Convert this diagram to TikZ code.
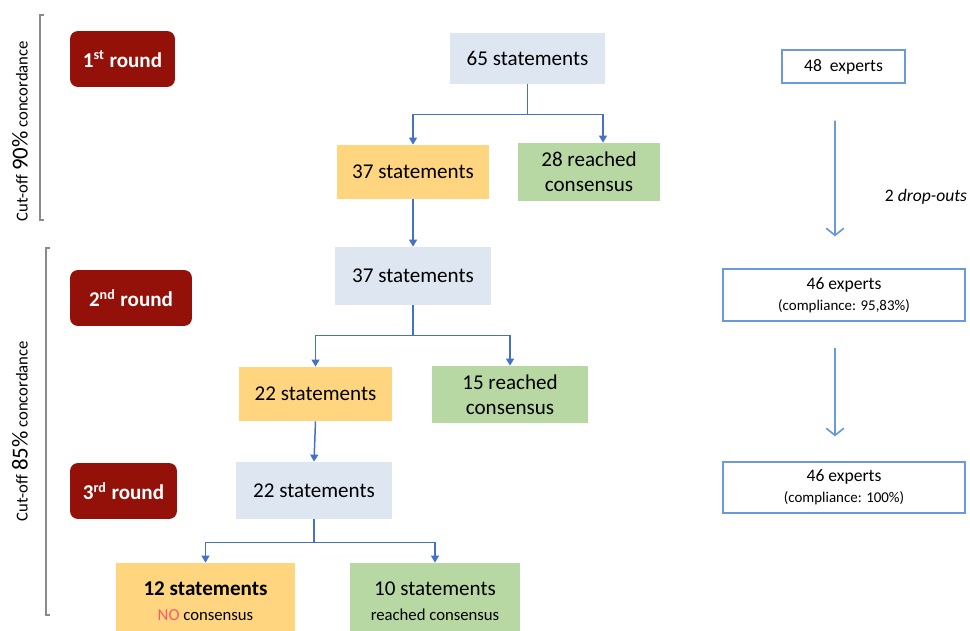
\documentclass[tikz,border=0pt]{standalone}
\usepackage{fontspec}
\setmainfont{Carlito}
\usetikzlibrary{arrows.meta,calc}

\definecolor{roundred}{HTML}{931108}
\definecolor{stmtblue}{HTML}{DEE6F2}
\definecolor{stmtyellow}{HTML}{FFD67F}
\definecolor{stmtgreen}{HTML}{B7D8A2}
\definecolor{flowblue}{HTML}{4472C4}
\definecolor{expblue}{HTML}{6A9AD9}
\definecolor{bracketgrey}{HTML}{8A8A8A}
\definecolor{nored}{HTML}{FF5A6A}

\tikzset{
  roundbox/.style={rounded corners=0.16cm, fill=roundred, text=white,
    font=\bfseries\fontsize{12}{14}\selectfont, minimum height=1.12cm, inner sep=0pt},
  stmt/.style={align=center, inner sep=0pt, font=\fontsize{12}{14}\selectfont},
  expbox/.style={draw=expblue, line width=0.7pt, fill=white, align=center,
    inner sep=0pt, font=\fontsize{10}{12}\selectfont},
  flow/.style={draw=flowblue, line width=0.85pt, -{Triangle[length=4pt,width=4.5pt]}},
  exflow/.style={draw=expblue, line width=0.95pt, -{Straight Barb[length=4pt,width=10pt]}},
  bracket/.style={draw=bracketgrey, line width=1.1pt},
  cutlabel/.style={rotate=90, font=\fontsize{9.5}{11}\selectfont}
}

\begin{document}
\begin{tikzpicture}[x=0.02cm,y=-0.02cm]
\clip (0,0) rectangle (970,631);

% rounds
\node[roundbox, minimum width=2.1cm] (round1) at (122.5,59) {1\textsuperscript{st} round};
\node[roundbox, minimum width=2.44cm] (round2) at (131,298) {2\textsuperscript{nd} round};
\node[roundbox, minimum width=2.14cm] (round3) at (123.5,491) {3\textsuperscript{rd} round};

% cut-off brackets
\draw[bracket] (44,15) -- (40,15) -- (40,220) -- (44,220);
\draw[bracket] (50,248) -- (46,248) -- (46,615) -- (50,615);
\node[cutlabel] (cut90) at (20,131) {Cut-off {\fontsize{13}{14}\selectfont 90\%} concordance};
\node[cutlabel] (cut85) at (20,431) {Cut-off {\fontsize{13}{14}\selectfont 85\%} concordance};

% statements
\node[stmt, fill=stmtblue, minimum width=3.1cm, minimum height=1.02cm] (s65) at (527.5,58.5) {65 statements};
\node[stmt, fill=stmtyellow, minimum width=3.04cm, minimum height=1.08cm] (s37a) at (413,172) {37 statements};
\node[stmt, fill=stmtgreen, minimum width=2.84cm, minimum height=1.16cm] (c28) at (589,172) {28 reached\\consensus};
\node[stmt, fill=stmtblue, minimum width=3.12cm, minimum height=1.16cm] (s37b) at (413,276) {37 statements};
\node[stmt, fill=stmtyellow, minimum width=3.06cm, minimum height=1.08cm] (s22a) at (315.5,394) {22 statements};
\node[stmt, fill=stmtgreen, minimum width=3.12cm, minimum height=1.14cm] (c15) at (510,394.5) {15 reached\\consensus};
\node[stmt, fill=stmtblue, minimum width=3.12cm, minimum height=1.14cm] (s22b) at (314,490.5) {22 statements};
\node[stmt, fill=stmtyellow, minimum width=3.6cm, minimum height=1.52cm] (s12) at (205.5,601)
  {\textbf{12 statements}\\{\fontsize{9.5}{11}\selectfont\textcolor{nored}{NO} consensus}};
\node[stmt, fill=stmtgreen, minimum width=3.4cm, minimum height=1.52cm] (s10) at (435,601)
  {10 statements\\{\fontsize{9.5}{11}\selectfont reached consensus}};

% experts
\node[expbox, minimum width=2.46cm, minimum height=0.66cm] (e48) at (843.5,66.5) {48~ experts};
\node[expbox, minimum width=4.84cm, minimum height=1.04cm] (e46a) at (844,295)
  {46 experts\\{\fontsize{8.5}{10}\selectfont (compliance: 95,83\%)}};
\node[expbox, minimum width=4.84cm, minimum height=1.02cm] (e46b) at (844,487.5)
  {46 experts\\{\fontsize{8.5}{10}\selectfont (compliance: 100\%)}};
\node[font=\fontsize{10}{12}\selectfont] (dropnote) at (926,197) {2 \textit{drop-outs}};

% flow
\draw[flow] (s65.south) -- ++(0,30) -| (s37a.north);
\draw[flow] (s65.south) -- ++(0,30) -| ([xshift=0.28cm]c28.north);
\draw[flow] (s37a.south) -- (s37b.north);
\draw[flow] (s37b.south) -- ++(0,30) -| (s22a.north);
\draw[flow] (s37b.south) -- ++(0,30) -| (c15.north);
\draw[flow] (s22a.south) -- (s22b.north);
\draw[flow] (s22b.south) -- ++(0,23) -| (s12.north);
\draw[flow] (s22b.south) -- ++(0,23) -| (s10.north);

\draw[exflow, shorten <=0.74cm, shorten >=0.64cm] ([xshift=-0.17cm]e48.south) -- ([xshift=-0.18cm]e46a.north);
\draw[exflow, shorten <=0.52cm, shorten >=0.5cm] ([xshift=-0.18cm]e46a.south) -- ([xshift=-0.18cm]e46b.north);
\end{tikzpicture}
\end{document}
